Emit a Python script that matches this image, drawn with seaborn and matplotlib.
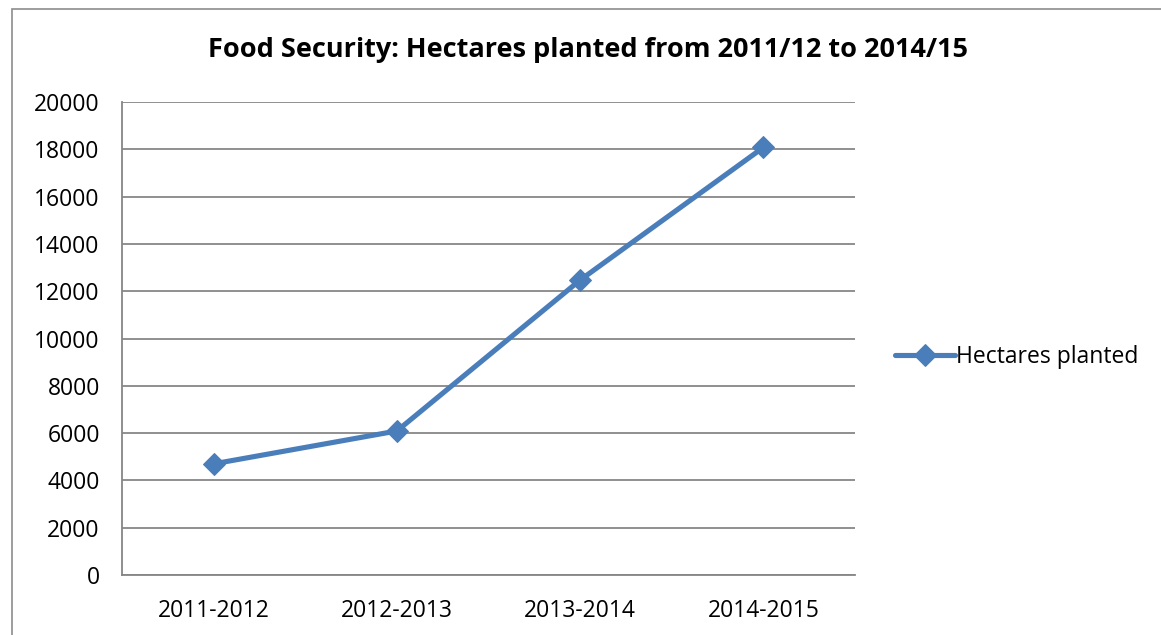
import matplotlib
matplotlib.use('Agg')
import matplotlib.pyplot as plt
import seaborn as sns
import pandas as pd
from matplotlib.patches import Rectangle

# Dados do gráfico
temporadas = ['2011-2012', '2012-2013', '2013-2014', '2014-2015']
hectares = [4700, 6090, 12470, 18080]
serie = 'Hectares planted'
titulo = 'Food Security: Hectares planted from 2011/12 to 2014/15'

dados = pd.DataFrame({'temporada': temporadas, 'hectares': hectares})

sns.set_theme(style='white')
plt.rcParams['font.family'] = ['Open Sans', 'DejaVu Sans']
plt.rcParams['text.color'] = 'black'
plt.rcParams['xtick.labelcolor'] = 'black'
plt.rcParams['ytick.labelcolor'] = 'black'

largura, altura = 1161, 635
fig = plt.figure(figsize=(largura / 100, altura / 100), dpi=100)
ax = fig.add_axes([122 / largura, 1 - 575 / altura, (855 - 122) / largura, (575 - 102) / altura])

cor = '#4A7EBB'
sns.lineplot(data=dados, x='temporada', y='hectares', ax=ax, color=cor,
             linewidth=3.7, marker='D', markersize=11, markeredgecolor=cor,
             label=serie, sort=False)

# Eixos no estilo Excel
ax.set_ylim(0, 20000)
ax.set_yticks(range(0, 20001, 2000))
ax.set_xlim(-0.5, len(temporadas) - 0.5)
ax.set_xticks(range(len(temporadas)))
ax.set_xticklabels(temporadas)
ax.set_xticks([i - 0.5 for i in range(len(temporadas) + 1)], minor=True)
ax.tick_params(axis='x', which='major', length=0, pad=17, labelsize=16.5, labelcolor='black')
ax.tick_params(axis='x', which='minor', length=7, width=1.2, color='#868686', direction='out')
ax.tick_params(axis='y', length=7, width=1.2, color='#868686', direction='out',
               labelsize=16.5, pad=9, labelcolor='black')
ax.yaxis.grid(True, color='#878787', linewidth=1.3)
ax.set_axisbelow(True)
ax.set_xlabel('')
ax.set_ylabel('')
for lado in ['top', 'right']:
    ax.spines[lado].set_visible(False)
for lado in ['left', 'bottom']:
    ax.spines[lado].set_visible(True)
    ax.spines[lado].set_color('#868686')
    ax.spines[lado].set_linewidth(1.3)

fig.text(588 / largura, 1 - 50 / altura, titulo, ha='center', va='center',
         fontsize=19.5, fontweight='bold', color='black')

leg = ax.legend(loc='center left', bbox_to_anchor=(886 / largura, 1 - 357 / altura),
                bbox_transform=fig.transFigure, frameon=False, fontsize=16.5,
                handlelength=2.6, handletextpad=0.05, borderaxespad=0)
for t in leg.get_texts():
    t.set_color('black')

# Moldura do gráfico
moldura = Rectangle((12 / largura, -0.1), 1.2, 1 - 9 / altura + 0.1,
                    transform=fig.transFigure, fill=False, edgecolor='#8c8c8c', linewidth=1.2)
fig.patches.append(moldura)

fig.savefig('out.png', dpi=100)
